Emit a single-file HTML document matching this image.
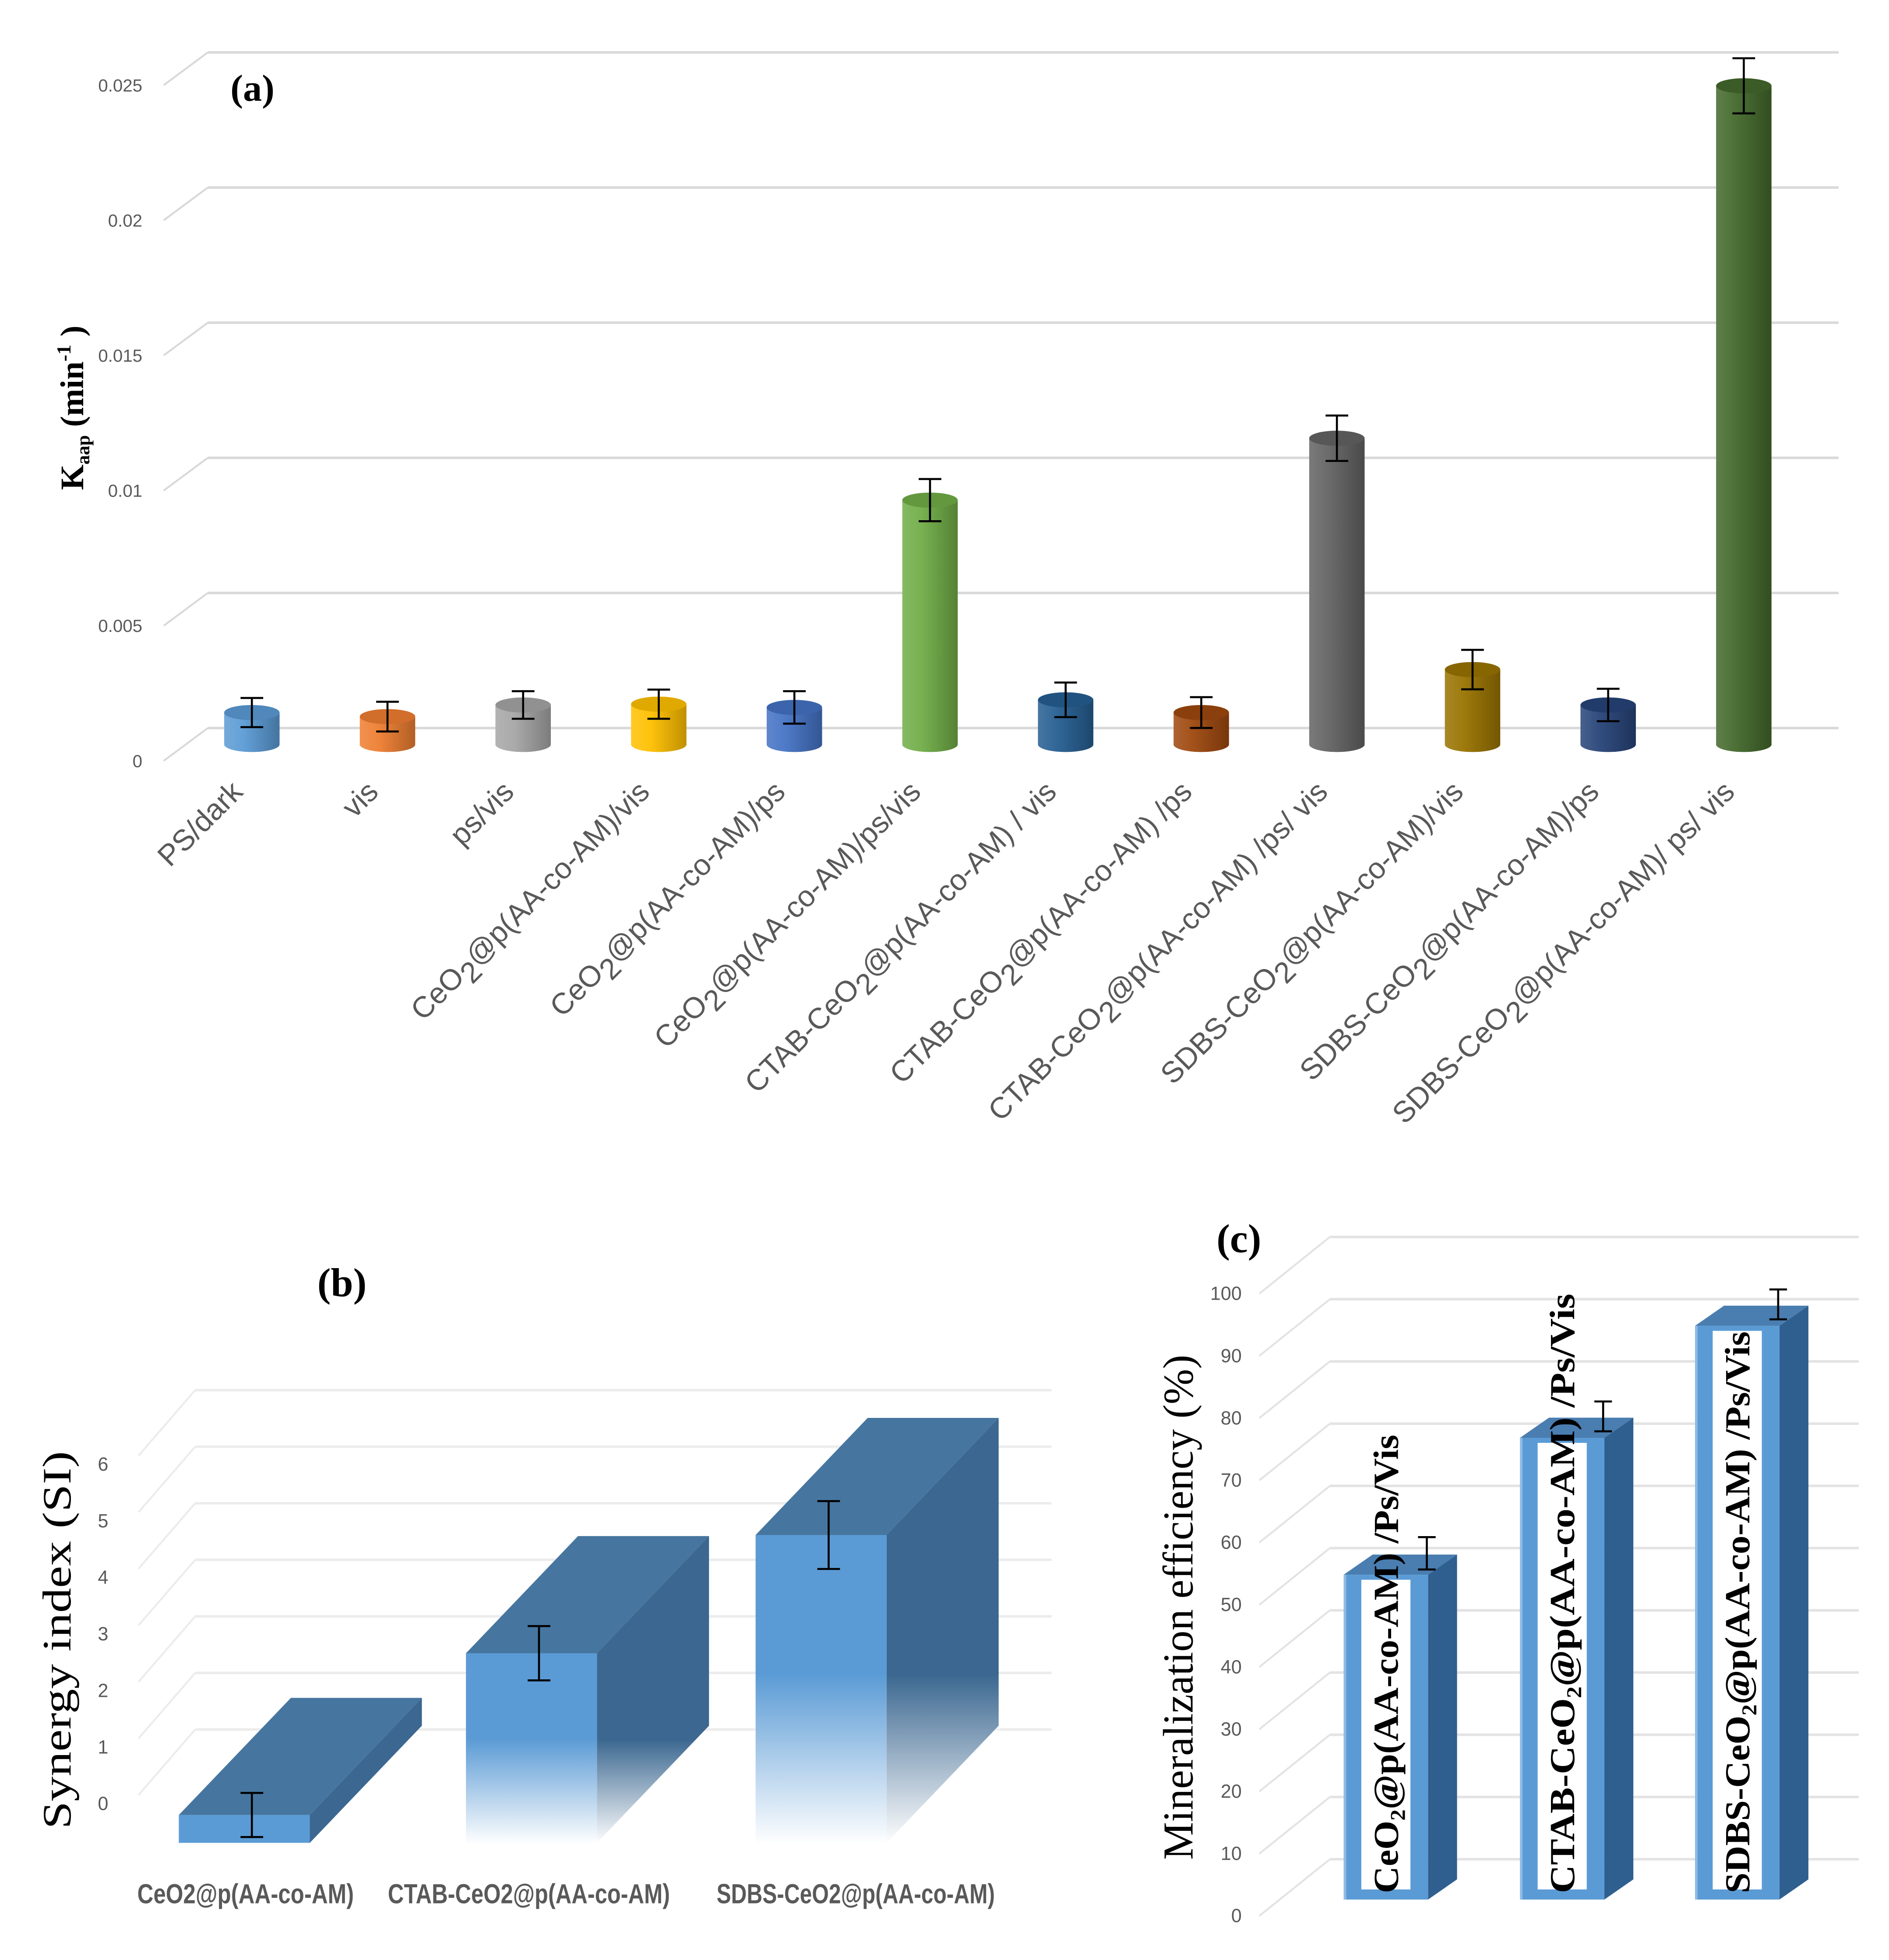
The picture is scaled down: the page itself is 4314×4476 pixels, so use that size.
<!DOCTYPE html>
<html><head><meta charset="utf-8"><style>
html,body{margin:0;padding:0;background:#fff}
svg{display:block}
</style></head><body>
<svg id="fig" xmlns="http://www.w3.org/2000/svg" width="4314" height="4476" viewBox="0 0 1500 1556" preserveAspectRatio="none">
<defs>
<linearGradient id="fadeB" x1="0" y1="0" x2="0" y2="1">
<stop offset="0" stop-color="#fff" stop-opacity="0"/><stop offset="0.45" stop-color="#fff" stop-opacity="0"/><stop offset="1" stop-color="#fff" stop-opacity="1"/>
</linearGradient>
</defs>
<g id="ga"></g>
<g id="gb"></g>
<g id="gc"></g>
</svg>
<script>
// ---- Chart (a) data
var catsA = ["PS/dark","vis","ps/vis","CeO|2|@p(AA-co-AM)/vis","CeO|2|@p(AA-co-AM)/ps","CeO|2|@p(AA-co-AM)/ps/vis","CTAB-CeO|2|@p(AA-co-AM) / vis","CTAB-CeO|2|@p(AA-co-AM) /ps","CTAB-CeO|2|@p(AA-co-AM) /ps/ vis","SDBS-CeO|2|@p(AA-co-AM)/vis","SDBS-CeO|2|@p(AA-co-AM)/ps","SDBS-CeO|2|@p(AA-co-AM)/ ps/ vis"];
var valsA = [0.00118,0.00103,0.00146,0.00149,0.00137,0.00904,0.00165,0.00118,0.01133,0.00277,0.00146,0.02437];
var errA = [0.00054,0.00055,0.00051,0.00054,0.0006,0.00078,0.00064,0.00057,0.00084,0.00073,0.0006,0.00102];
var colorsA = ["#5b9bd5","#ed7d31","#a5a5a5","#ffc000","#4472c4","#70ad47","#255e91","#9e480e","#636363","#997300","#264478","#43682b"];
var ticksA = [0,0.005,0.01,0.015,0.02,0.025];
var tickLabelsA = ["0","0.005","0.01","0.015","0.02","0.025"];
// ---- Chart (b) data
var catsB = ["CeO2@p(AA-co-AM)","CTAB-CeO2@p(AA-co-AM)","SDBS-CeO2@p(AA-co-AM)"];
var valsB = [-0.22,2.64,4.73];
var errB = [0.39,0.48,0.6];
var ticksB = [0,1,2,3,4,5,6];
// ---- Chart (c) data
var catsC = ["CeO₂@p(AA-co-AM) /Ps/Vis","CTAB-CeO₂@p(AA-co-AM) /Ps/Vis","SDBS-CeO₂@p(AA-co-AM) /Ps/Vis"];
var valsC = [52.2,74.2,92.2];
var errC = [2.6,2.4,2.4];
var ticksC = [0,10,20,30,40,50,60,70,80,90,100];

var NS="http://www.w3.org/2000/svg";
function mk(tag,attrs,parent,txt){var e=document.createElementNS(NS,tag);for(var k in attrs)e.setAttribute(k,attrs[k]);if(txt!=null)e.textContent=txt;parent.appendChild(e);return e;}
function shade(hex,f){var n=parseInt(hex.slice(1),16);var r=n>>16,g=(n>>8)&255,b=n&255;function c(x){return Math.max(0,Math.min(255,Math.round(f>0?x+(255-x)*f:x*(1+f))));}return "rgb("+c(r)+","+c(g)+","+c(b)+")";}

// ================= Chart A =================
var ga=document.getElementById('ga');
var baseA=591, scaleA=21456;
function yA(v){return baseA - v*scaleA;}
function xA(i){return 200 + i*107.7;}
ticksA.forEach(function(t,i){
  var yb=578 - t*scaleA;
  var l=mk('line',{x1:165,y1:yb,x2:1460,y2:yb,stroke:'#d9d9d9','stroke-width':2},ga);
  
  
  var s=mk('line',{x1:165,y1:yb,x2:130,y2:yb+26,stroke:'#d9d9d9','stroke-width':1.5},ga);
  
  
  var tx=mk('text',{x:113,y:yb+31,'text-anchor':'end','font-family':'Liberation Sans Narrow, Liberation Sans, sans-serif','font-size':14,fill:'#595959'},ga,tickLabelsA[i]);
  
  
});
catsA.forEach(function(c,i){
  var cx=xA(i), w=22, top=yA(valsA[i]), col=colorsA[i];
  var gid='cyl'+i;
  var gr=mk('linearGradient',{id:gid,x1:0,y1:0,x2:1,y2:0},document.querySelector('defs'));
  mk('stop',{offset:0,'stop-color':shade(col,0.15)},gr);
  mk('stop',{offset:0.35,'stop-color':shade(col,0.05)},gr);
  mk('stop',{offset:1,'stop-color':shade(col,-0.25)},gr);
  var g=mk('g',{},ga);
  
  
  mk('ellipse',{cx:cx,cy:baseA,rx:w,ry:6,fill:'url(#'+gid+')'},g);
  mk('rect',{x:cx-w,y:top,width:2*w,height:baseA-top,fill:'url(#'+gid+')'},g);
  mk('ellipse',{cx:cx,cy:top,rx:w,ry:6,fill:shade(col,-0.12)},g);
  var e=errA[i]*scaleA, eg=mk('g',{stroke:'#000','stroke-width':1.6},ga);
  
  
  mk('line',{x1:cx,y1:top-e,x2:cx,y2:top+e},eg);
  mk('line',{x1:cx-9,y1:top-e,x2:cx+9,y2:top-e},eg);
  mk('line',{x1:cx-9,y1:top+e,x2:cx+9,y2:top+e},eg);
  var lx=cx-6, ly=630;
  var t=mk('text',{x:lx,y:ly,'text-anchor':'end',transform:'rotate(-45 '+lx+' '+ly+')','font-family':'Liberation Sans, sans-serif','font-size':23.5,fill:'#595959'},ga);
  
  
  c.split('|').forEach(function(p,k){
    var sp=mk('tspan',{},t,p);
    if(k==1){sp.setAttribute('dy',7);}
    if(k==2){sp.setAttribute('dy',-7);}
  });
});
var la=mk('text',{x:183,y:80,'font-family':'Liberation Serif, serif','font-size':30,'font-weight':'bold',fill:'#000'},ga,'(a)');


var yta=mk('text',{x:0,y:0,transform:'translate(66 389) rotate(-90)','font-family':'Liberation Serif, serif','font-size':26,'font-weight':'bold',fill:'#000'},ga);


mk('tspan',{},yta,'K');
mk('tspan',{'font-size':15,dy:5},yta,'aap');
mk('tspan',{dy:-5},yta,'  (min');
mk('tspan',{'font-size':16,dy:-10},yta,'-1');
mk('tspan',{dy:10},yta,' )');

// ================= Chart B =================
var gb=document.getElementById('gb');
var baseB=1431, stepB=44.9;
function yB(v){return baseB - v*stepB;}
ticksB.forEach(function(t){
  var yb=yB(t)-58;
  var l=mk('line',{x1:155,y1:yb,x2:835,y2:yb,stroke:'#ececec','stroke-width':2},gb);
  
  
  var s=mk('line',{x1:155,y1:yb,x2:110,y2:yb+52,stroke:'#ececec','stroke-width':1.5},gb);
  
  
  var tx=mk('text',{x:86,y:yB(t)+6,'text-anchor':'end','font-family':'Liberation Sans Narrow, Liberation Sans, sans-serif','font-size':15,fill:'#595959'},gb,String(t));
  
  
});
var xsB=[142,370,600], wB=104, dxB=89, dyB=-93, botB=1463;
var lblX=[109,308,569], lblW=[172,224,221];
catsB.forEach(function(c,i){
  var x=xsB[i], top=yB(valsB[i]);
  var g=mk('g',{},gb);
  
  
  mk('polygon',{points:(x+wB)+','+top+' '+(x+wB+dxB)+','+(top+dyB)+' '+(x+wB+dxB)+','+(botB+dyB)+' '+(x+wB)+','+botB,fill:'#3b6790'},g);
  mk('polygon',{points:x+','+top+' '+(x+dxB)+','+(top+dyB)+' '+(x+wB+dxB)+','+(top+dyB)+' '+(x+wB)+','+top,fill:'#46769f'},g);
  mk('rect',{x:x,y:top,width:wB,height:botB-top,fill:'#5b9bd5'},g);
  if(i>0){mk('rect',{x:x-1,y:top,width:wB+dxB+2,height:botB-top+1,fill:'url(#fadeB)'},g);}
  var cx=x+wB/2+6, e=errB[i]*stepB, ey=top;
  var eg=mk('g',{stroke:'#000','stroke-width':1.6},gb);
  
  
  mk('line',{x1:cx,y1:ey-e,x2:cx,y2:ey+e},eg);
  mk('line',{x1:cx-9,y1:ey-e,x2:cx+9,y2:ey-e},eg);
  mk('line',{x1:cx-9,y1:ey+e,x2:cx+9,y2:ey+e},eg);
  var tx=mk('text',{x:lblX[i],y:1511,textLength:lblW[i],lengthAdjust:'spacingAndGlyphs','font-family':'Liberation Sans Narrow, Liberation Sans, sans-serif','font-size':22,'font-weight':'bold',fill:'#595959'},gb,c);
  
  
});
var lb=mk('text',{x:252,y:1029,'font-family':'Liberation Serif, serif','font-size':32,'font-weight':'bold',fill:'#000'},gb,'(b)');


var ytb=mk('text',{x:0,y:0,transform:'translate(56 1302) rotate(-90)','text-anchor':'middle','font-family':'Liberation Serif, serif','font-size':32,fill:'#000',textLength:300,lengthAdjust:'spacingAndGlyphs'},gb,'Synergy index (SI)');



// ================= Chart C =================
var gc=document.getElementById('gc');
var baseC=1508, scaleC=4.94;
function yC(v){return baseC - v*scaleC;}
ticksC.forEach(function(t){
  var yf=1521 - t*4.94, yb=yf-45;
  var l=mk('line',{x1:1056,y1:yb,x2:1476,y2:yb,stroke:'#e3e3e3','stroke-width':2},gc);
  
  
  var s=mk('line',{x1:1056,y1:yb,x2:1000,y2:yb+45,stroke:'#e3e3e3','stroke-width':1.5},gc);
  
  
  var tx=mk('text',{x:986,y:yf+5,'text-anchor':'end','font-family':'Liberation Sans Narrow, Liberation Sans, sans-serif','font-size':15,fill:'#595959'},gc,String(t));
  
  
});
var xsC=[1067,1207,1346], wC=[67,67,67], dxC=23, dyC=-16;
var textTopC=[1139,1027,1057];
catsC.forEach(function(c,i){
  var x=xsC[i], w=wC[i], top=yC(valsC[i]);
  var g=mk('g',{},gc);
  
  
  mk('polygon',{points:(x+w)+','+top+' '+(x+w+dxC)+','+(top+dyC)+' '+(x+w+dxC)+','+(baseC+dyC)+' '+(x+w)+','+baseC,fill:'#2f5f8f'},g);
  mk('polygon',{points:x+','+top+' '+(x+dxC)+','+(top+dyC)+' '+(x+w+dxC)+','+(top+dyC)+' '+(x+w)+','+top,fill:'#4a7db0'},g);
  mk('rect',{x:x,y:top,width:w,height:baseC-top,fill:'#5b9bd5'},g);
  mk('line',{x1:x+1,y1:top,x2:x+1,y2:baseC,stroke:'#8fbbe6','stroke-width':2},g);
  var bx=x+14;
  mk('rect',{x:bx,y:top+4,width:39,height:baseC-top-12,fill:'#fff'},g);
  var tb=1503, len=tb-textTopC[i];
  var tx=mk('text',{x:0,y:0,transform:'translate('+(bx+29)+' '+tb+') rotate(-90)','font-family':'Liberation Serif, serif','font-size':28,'font-weight':'bold',fill:'#000',textLength:len,lengthAdjust:'spacingAndGlyphs'},gc,c);
  
  
  var cx=x+w-1, e=errC[i]*scaleC, ey=top-17;
  var eg=mk('g',{stroke:'#000','stroke-width':1.6},gc);
  
  
  mk('line',{x1:cx,y1:ey-e,x2:cx,y2:ey+e},eg);
  mk('line',{x1:cx-7,y1:ey-e,x2:cx+7,y2:ey-e},eg);
  mk('line',{x1:cx-7,y1:ey+e,x2:cx+7,y2:ey+e},eg);
});
var lc=mk('text',{x:966,y:994,'font-family':'Liberation Serif, serif','font-size':32,'font-weight':'bold',fill:'#000'},gc,'(c)');


var ytc=mk('text',{x:0,y:0,transform:'translate(947 1276) rotate(-90)','text-anchor':'middle','font-family':'Liberation Serif, serif','font-size':34,fill:'#000',textLength:401,lengthAdjust:'spacingAndGlyphs'},gc,'Mineralization efficiency (%)');


</script>
</body></html>
